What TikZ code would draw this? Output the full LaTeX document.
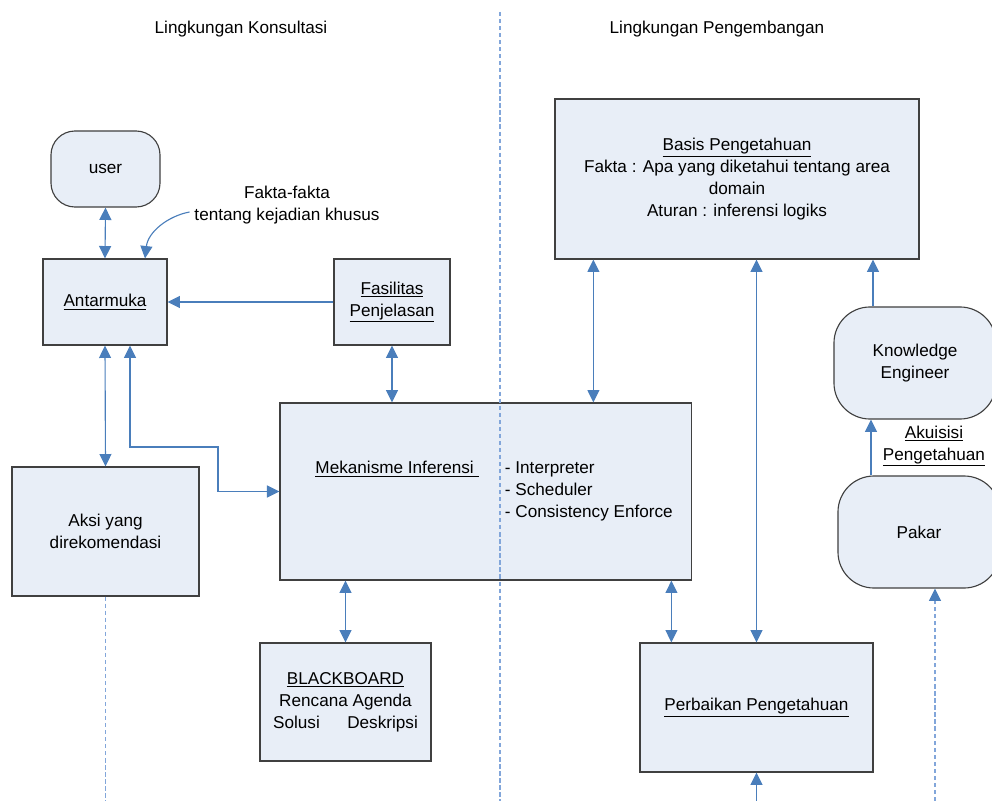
\documentclass[tikz,border=0pt]{standalone}
\usepackage{fontspec}
\setmainfont{Liberation Sans}
\usepackage{xcolor}
\usepackage{tikz}
\usetikzlibrary{arrows.meta, positioning}
\definecolor{boxfill}{RGB}{232,238,247}
\definecolor{boxline}{RGB}{64,64,64}
\definecolor{linkblue}{RGB}{74,126,187}
\definecolor{guideblue}{RGB}{130,166,218}
\tikzset{
  box/.style={rectangle, draw=boxline, fill=boxfill, line width=0.8pt, inner sep=0pt, align=center},
  softbox/.style={box, rounded corners=0.9cm},
  link/.style={-{Triangle[length=3.1mm,width=3mm]}, draw=linkblue, line width=0.8pt},
  linkboth/.style={{Triangle[length=3.1mm,width=3mm]}-{Triangle[length=3.1mm,width=3mm]}, draw=linkblue, line width=0.8pt},
  guide/.style={draw=guideblue, line width=0.8pt, dash pattern=on 3pt off 2pt},
}

\begin{document}
\begin{tikzpicture}[x=0.025cm, y=-0.025cm, every node/.style={font=\fontsize{12.2}{15.6}\selectfont}]
    \useasboundingbox (0,0) rectangle (992,801);
    \node[softbox, rounded corners=0.6cm, minimum width=2.725cm, minimum height=1.9cm] (user) at (105.5,169) {user};
    \node[box, minimum width=3.1cm, minimum height=2.15cm] (ant) at (105,302) {\underline{Antarmuka}};
    \node[box, minimum width=2.9cm, minimum height=2.15cm] (fas) at (392,302) {\underline{Fasilitas}\\\underline{Penjelasan}};
    \node[box, minimum width=4.675cm, minimum height=3.225cm] (aksi) at (105.5,531.5) {Aksi yang\\direkomendasi};
    \node[box, minimum width=10.275cm, minimum height=4.425cm] (mek) at (485.5,491.5) {};
    \node (mekname) at (397,469) {\underline{Mekanisme Inferensi\ }};
    \node[anchor=west, align=left] (meklist) at (500,491) {- Interpreter\\- Scheduler\\- Consistency Enforce};
    \node[box, minimum width=4.275cm, minimum height=2.95cm] (bb) at (345.5,702) {\underline{BLACKBOARD}\\Rencana Agenda\\Solusi\hspace{1.6em}Deskripsi};
    \node[box, minimum width=9.1cm, minimum height=4cm] (basis) at (737,179) {\underline{Basis Pengetahuan}\\Fakta : Apa yang diketahui tentang area\\domain\\Aturan : inferensi logiks};
    \node[box, minimum width=5.825cm, minimum height=3.225cm] (perb) at (756.5,707.5) {\underline{Perbaikan Pengetahuan}};
    \node[softbox, minimum width=4.05cm, minimum height=2.8cm] (ke) at (915,363) {Knowledge\\Engineer};
    \node[softbox, minimum width=4.05cm, minimum height=2.8cm] (pakar) at (919,532) {Pakar};
    \node[align=center] (akuisisi) at (934,446) {\underline{Akuisisi}\\\underline{Pengetahuan}};
    \node[align=center] (fakta) at (287,205) {Fakta-fakta\\tentang kejadian khusus};
    \node (konsul) at (241,29) {Lingkungan Konsultasi};
    \node (kembang) at (717,29) {Lingkungan Pengembangan};
    \coordinate (bend) at (218,447);
    \coordinate (top) at (500,12);
    \coordinate (bot) at (0,801);
    \draw[linkboth] (user.south) -- (ant.north);
    \draw[link] ([yshift=-0.175cm]fakta.west) .. controls (168,216) and (148,232) .. ([xshift=1cm]ant.north);
    \draw[link] (fas.west) -- (ant.east);
    \draw[linkboth] (ant.south) -- (aksi.north);
    \draw[linkboth] ([xshift=0.625cm]ant.south) |- (bend) |- (mek.west);
    \draw[linkboth] (fas.south) -- (fas.south |- mek.north);
    \draw[linkboth] (bb.north) -- (bb.north |- mek.south);
    \draw[linkboth] ([xshift=0.975cm]basis.south west) coordinate (kb) -- (kb |- mek.north);
    \draw[linkboth] (perb.north) -- (perb.north |- basis.south);
    \draw[linkboth] ([xshift=0.8cm]perb.north west) coordinate (mp) -- (mp |- mek.south);
    \draw[link] ([xshift=-1.05cm]ke.north) coordinate (kk) -- (kk |- basis.south);
    \draw[link] ([xshift=-1.2cm]pakar.north) coordinate (pk) -- (pk |- ke.south);
    \draw[link] (perb.south |- bot) -- (perb.south);
    \draw[guide, -{Triangle[length=3.1mm,width=3mm,color=linkblue]}] ([xshift=0.4cm]pakar.south |- bot) -- ([xshift=0.4cm]pakar.south);
    \draw[guide] (aksi.south) -- (aksi.south |- bot);
    \draw[guide] (top) -- (top |- bot);
\end{tikzpicture}
\end{document}
